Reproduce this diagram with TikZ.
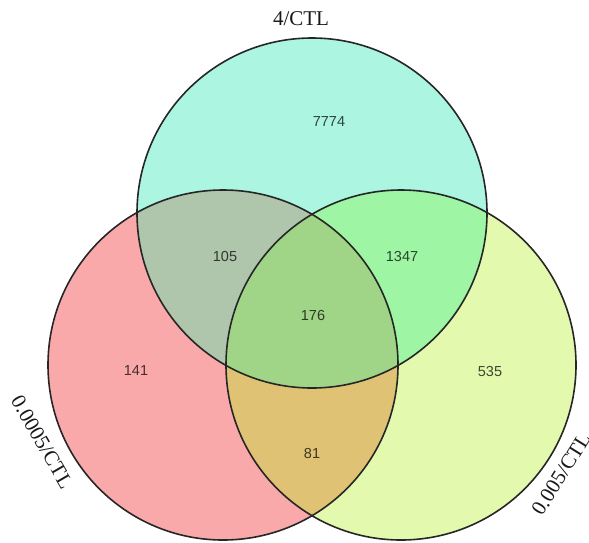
\documentclass[tikz,border=0pt]{standalone}
\usepackage{fontspec}
\setmainfont{Liberation Serif}
\newfontfamily\numfont{Liberation Sans}
\definecolor{topfill}{HTML}{ABF5E1}
\definecolor{leftfill}{HTML}{F9A9AA}
\definecolor{rightfill}{HTML}{E3F9AE}
\definecolor{tlfill}{HTML}{B0C6AC}
\definecolor{trfill}{HTML}{9EF5A4}
\definecolor{lrfill}{HTML}{E0C274}
\definecolor{allfill}{HTML}{A0D587}
\begin{document}
\begin{tikzpicture}[x=1pt,y=-1pt,
    count/.style={font=\numfont\fontsize{14.5}{14.5}\selectfont,text=black,text opacity=0.72},
    setname/.style={font=\fontsize{21}{21}\selectfont,text=black!90},
    rim/.style={draw=black!85,line width=1.6pt}]
  \useasboundingbox (0,0) rectangle (589,542);
  % centres
  \coordinate (T) at (312,213);
  \coordinate (L) at (223,365);
  \coordinate (R) at (401,365);
  % single sets
  \fill[topfill] (T) circle[radius=175];
  \fill[leftfill] (L) circle[radius=175];
  \fill[rightfill] (R) circle[radius=175];
  % pairwise overlaps
  \begin{scope}
    \clip (T) circle[radius=175];
    \fill[tlfill] (L) circle[radius=175];
    \fill[trfill] (R) circle[radius=175];
  \end{scope}
  \begin{scope}
    \clip (L) circle[radius=175];
    \fill[lrfill] (R) circle[radius=175];
  \end{scope}
  % triple overlap
  \begin{scope}
    \clip (T) circle[radius=175];
    \clip (L) circle[radius=175];
    \fill[allfill] (R) circle[radius=175];
  \end{scope}
  % outlines
  \draw[rim] (T) circle[radius=175];
  \draw[rim] (L) circle[radius=175];
  \draw[rim] (R) circle[radius=175];
  % counts
  \node[count] (n7774) at (329,122) {7774};
  \node[count] (n105) at (225,257) {105};
  \node[count] (n1347) at (402,257) {1347};
  \node[count] (n176) at (313,315) {176};
  \node[count] (n141) at (136,371) {141};
  \node[count] (n535) at (490,371) {535};
  \node[count] (n81) at (312,453) {81};
  % set names
  \node[setname] (top) at (301,19) {4/CTL};
  \node[setname,rotate=-60] (left) at (42,442) {0.0005/CTL};
  \node[setname,rotate=58] (right) at (561,474) {0.005/CTL};
\end{tikzpicture}
\end{document}
